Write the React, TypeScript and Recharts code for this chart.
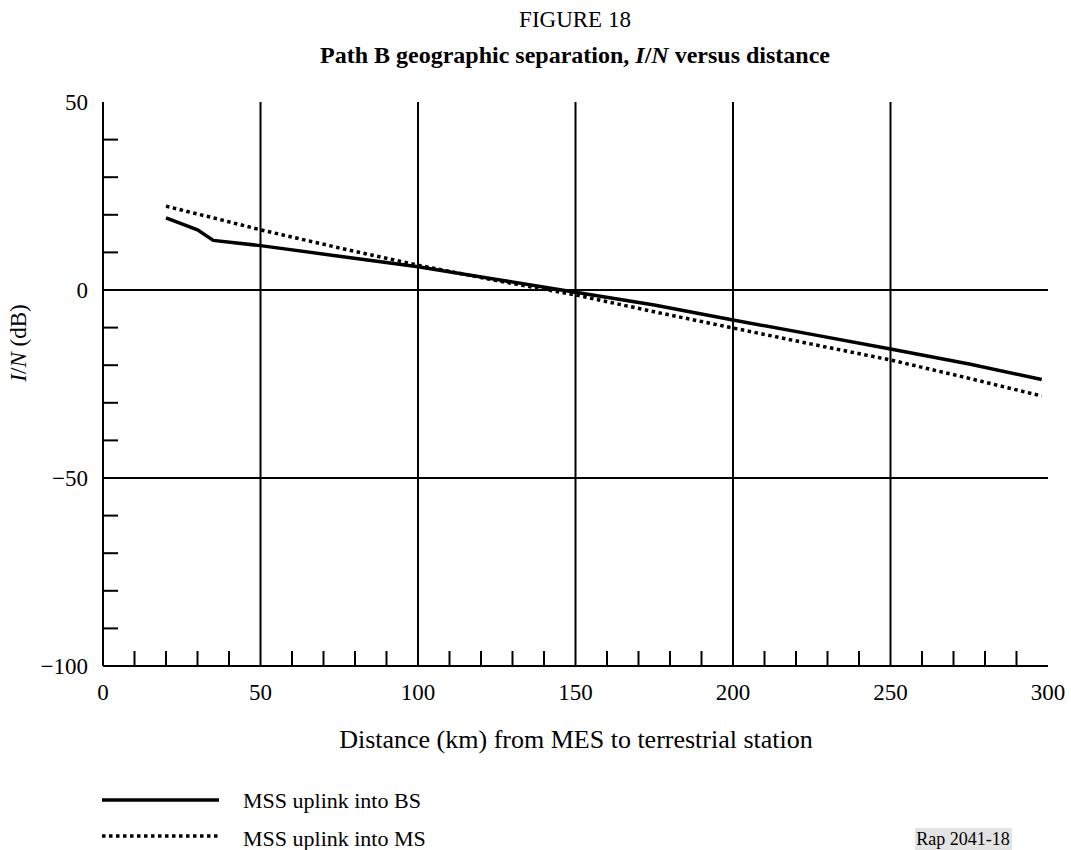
import { LineChart, Line, XAxis, YAxis, ReferenceLine, Legend } from 'recharts'

// distance from MES (km) and I/N (dB)
const distanceKm = [20, 30, 35, 50, 75, 100, 125, 150, 175, 200, 225, 250, 275, 298]
const intoBs = [19.2, 16.0, 13.2, 11.8, 9.0, 6.2, 2.8, -0.6, -4.0, -8.0, -11.8, -15.7, -19.7, -23.8]
const intoMs = [22.3, 20.2, 19.2, 16.0, 11.2, 6.6, 2.5, -1.3, -5.8, -10.1, -14.4, -18.6, -23.5, -28.2]

const xTicks = [0, 10, 20, 30, 40, 50, 60, 70, 80, 90, 100, 110, 120, 130, 140, 150, 160, 170, 180, 190, 200,
    210, 220, 230, 240, 250, 260, 270, 280, 290, 300]
const yTicks = [-100, -90, -80, -70, -60, -50, -40, -30, -20, -10, 0, 10, 20, 30, 40, 50]
const xGrid = [50, 100, 150, 200, 250]
const yGrid = [-50, 0]

const seriesKeys = ['bs', 'ms']
const seriesNames = ['MSS uplink into BS', 'MSS uplink into MS']
const seriesDash = [undefined, '3.5 3.5']

const data = distanceKm.map((d, i) => ({ distance: d, bs: intoBs[i], ms: intoMs[i] }))

const FONT = '"Liberation Serif", "Times New Roman", serif'
const TICK_LEN = 15
const fmt = (v: number) => (v < 0 ? `\u2212${-v}` : `${v}`)

function BottomTick({ x, y, payload }: any) {
    const v = payload.value
    if (v % 50 === 0)
        return <text x={x} y={y + 34} textAnchor="middle" fontSize={23} fontFamily={FONT} fill="#000">{fmt(v)}</text>
    return <line x1={x} x2={x} y1={y} y2={y - TICK_LEN} stroke="#000" strokeWidth={2} />
}

function TopTick({ x, y, payload }: any) {
    if (payload.value % 50 === 0) return <g />
    return <line x1={x} x2={x} y1={y} y2={y + TICK_LEN} stroke="#000" strokeWidth={2} />
}

function LeftTick({ x, y, payload }: any) {
    const v = payload.value
    if (v % 50 === 0)
        return <text x={x - 15} y={y + 8} textAnchor="end" fontSize={23} fontFamily={FONT} fill="#000">{fmt(v)}</text>
    return <line x1={x} x2={x + TICK_LEN} y1={y} y2={y} stroke="#000" strokeWidth={2} />
}

function RightTick({ x, y, payload }: any) {
    if (payload.value % 50 === 0) return <g />
    return <line x1={x} x2={x - TICK_LEN} y1={y} y2={y} stroke="#000" strokeWidth={2} />
}

function KeyBox() {
    return (
        <svg width={400} height={70} style={{ display: 'block' }}>
            {seriesKeys.map((k, i) => (
                <g key={k}>
                    <line x1={2} x2={119} y1={15 + i * 36} y2={15 + i * 36} stroke="#000" strokeWidth={3.5}
                        strokeDasharray={seriesDash[i]} />
                    <text x={143} y={23 + i * 38} fontSize={22} fontFamily={FONT} fill="#000">{seriesNames[i]}</text>
                </g>
            ))}
        </svg>
    )
}

export default function App() {
    return (
        <div style={{ position: 'absolute', left: 0, top: 0, width: 1071, height: 850, background: '#fff' }}>
            <LineChart width={1071} height={850} data={data} margin={{ top: 102, right: 23, bottom: 154, left: 0 }}>
                <XAxis dataKey="distance" type="number" domain={[0, 300]} ticks={xTicks} interval={0}
                    height={30} tickSize={0} tickMargin={0} tickLine={false}
                    axisLine={{ stroke: '#000', strokeWidth: 2 }} tick={<BottomTick />} />
                <XAxis xAxisId="top" orientation="top" dataKey="distance" type="number" domain={[0, 300]}
                    ticks={xTicks} interval={0} height={0} tickSize={0} tickMargin={0} tickLine={false}
                    axisLine={{ stroke: '#000', strokeWidth: 2 }} tick={<TopTick />} />
                <YAxis type="number" domain={[-100, 50]} ticks={yTicks} interval={0} width={103}
                    tickSize={0} tickMargin={0} tickLine={false}
                    axisLine={{ stroke: '#000', strokeWidth: 2 }} tick={<LeftTick />} />
                <YAxis yAxisId="right" orientation="right" type="number" domain={[-100, 50]} ticks={yTicks}
                    interval={0} width={0} tickSize={0} tickMargin={0} tickLine={false}
                    axisLine={{ stroke: '#000', strokeWidth: 2 }} tick={<RightTick />} />
                {xGrid.map((v) => <ReferenceLine key={`x${v}`} x={v} stroke="#000" strokeWidth={2} />)}
                {yGrid.map((v) => <ReferenceLine key={`y${v}`} y={v} stroke="#000" strokeWidth={2} />)}
                {seriesKeys.map((k, i) => (
                    <Line key={k} dataKey={k} name={seriesNames[i]} type="linear" stroke="#000" strokeWidth={3.5}
                        strokeDasharray={seriesDash[i]} dot={false} isAnimationActive={false} />
                ))}
                <Legend layout="vertical" align="center" verticalAlign="middle" content={<KeyBox />}
                    wrapperStyle={{ left: 100, top: 785, width: 400, height: 70 }} />
            </LineChart>
            <svg width={1071} height={850} style={{ position: 'absolute', left: 0, top: 0, pointerEvents: 'none' }}>
                <text x={575} y={27} textAnchor="middle" fontSize={23} fontFamily={FONT} fill="#000">FIGURE 18</text>
                <text x={575} y={63} textAnchor="middle" fontSize={24} fontFamily={FONT} fontWeight="bold" fill="#000">
                    Path B geographic separation, <tspan fontStyle="italic">I</tspan>/<tspan fontStyle="italic">N</tspan> versus distance
                </text>
                <text x={576} y={748} textAnchor="middle" fontSize={26} fontFamily={FONT} fill="#000">
                    Distance (km) from MES to terrestrial station
                </text>
                <text transform="translate(26 343) rotate(-90)" textAnchor="middle" fontSize={23} fontFamily={FONT} fill="#000">
                    <tspan fontStyle="italic">I</tspan>/<tspan fontStyle="italic">N</tspan> (dB)
                </text>
                <rect x={915} y={828} width={97} height={22} fill="#e3e3e3" />
                <text x={963} y={845} textAnchor="middle" fontSize={18} fontFamily={FONT} fill="#000">Rap 2041-18</text>
            </svg>
        </div>
    )
}
